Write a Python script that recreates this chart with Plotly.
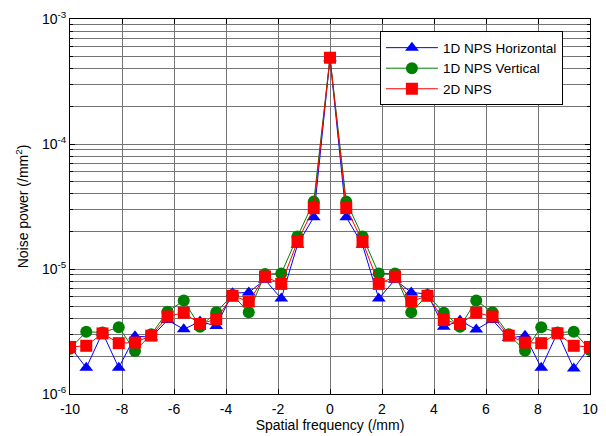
import numpy as np
import plotly.graph_objects as go

# Spatial frequency (/mm): 33 samples from -10 to 10
freq = [-10, -9.375, -8.75, -8.125, -7.5, -6.875, -6.25, -5.625, -5, -4.375,
        -3.75, -3.125, -2.5, -1.875, -1.25, -0.625, 0, 0.625, 1.25, 1.875,
        2.5, 3.125, 3.75, 4.375, 5, 5.625, 6.25, 6.875, 7.5, 8.125, 8.75,
        9.375, 10]

nps_horizontal = [2.4e-6, 1.62e-6, 3.1e-6, 1.62e-6, 2.9e-6, 2.85e-6, 3.9e-6, 3.3e-6,
                  3.8e-6, 3.5e-6, 6.4e-6, 6.5e-6, 8.2e-6, 5.8e-6, 1.56e-5, 2.6e-5,
                  4.85e-4,
                  2.6e-5, 1.56e-5, 5.8e-6, 8.2e-6, 6.5e-6, 6.3e-6, 3.45e-6, 3.87e-6,
                  3.28e-6, 3.91e-6, 2.8e-6, 2.93e-6, 1.62e-6, 3.1e-6, 1.6e-6, 2.4e-6]

nps_vertical = [2.3e-6, 3.15e-6, 3.1e-6, 3.42e-6, 2.21e-6, 3.0e-6, 4.55e-6, 5.6e-6,
                3.45e-6, 4.5e-6, 6.2e-6, 4.5e-6, 9.1e-6, 9.2e-6, 1.82e-5, 3.46e-5,
                4.9e-4,
                3.46e-5, 1.82e-5, 9.2e-6, 9.2e-6, 4.5e-6, 6.2e-6, 4.47e-6, 3.45e-6,
                5.6e-6, 4.5e-6, 3.0e-6, 2.22e-6, 3.42e-6, 3.1e-6, 3.15e-6, 2.25e-6]

nps_2d = [2.38e-6, 2.43e-6, 3.05e-6, 2.55e-6, 2.58e-6, 2.93e-6, 4.17e-6, 4.47e-6,
          3.63e-6, 3.97e-6, 6.1e-6, 5.5e-6, 8.7e-6, 7.6e-6, 1.66e-5, 3.07e-5,
          4.9e-4,
          3.07e-5, 1.66e-5, 7.6e-6, 8.7e-6, 5.5e-6, 6.1e-6, 3.91e-6, 3.63e-6,
          4.47e-6, 4.17e-6, 2.93e-6, 2.58e-6, 2.55e-6, 3.06e-6, 2.43e-6, 2.38e-6]

x_ticks = [-10, -8, -6, -4, -2, 0, 2, 4, 6, 8, 10]
y_tickvals = [1e-6, 1e-5, 1e-4, 1e-3]
y_ticktext = ["10<sup>-6</sup>", "10<sup>-5</sup>", "10<sup>-4</sup>", "10<sup>-3</sup>"]

FONT = "Liberation Sans, Arial, sans-serif"
GRID = "#747474"

fig = go.Figure()
fig.add_trace(go.Scatter(
    x=freq, y=nps_horizontal, mode="lines+markers", name="1D NPS Horizontal",
    line=dict(color="#0000ff", width=1),
    marker=dict(symbol="triangle-up", size=12, color="#0000ff")))
fig.add_trace(go.Scatter(
    x=freq, y=nps_vertical, mode="lines+markers", name="1D NPS Vertical",
    line=dict(color="#008000", width=1),
    marker=dict(symbol="circle", size=12, color="#008000")))
fig.add_trace(go.Scatter(
    x=freq, y=nps_2d, mode="lines+markers", name="2D NPS",
    line=dict(color="#ff0000", width=1),
    marker=dict(symbol="square", size=12, color="#ff0000")))

fig.update_layout(
    width=606, height=436,
    margin=dict(l=70, r=16, t=19, b=42, autoexpand=False),
    paper_bgcolor="white", plot_bgcolor="white",
    font=dict(family=FONT, size=14, color="black"),
    showlegend=True,
    legend=dict(x=0.596, y=0.967, xanchor="left", yanchor="top",
                bgcolor="white", bordercolor="black", borderwidth=1,
                font=dict(family=FONT, size=13.5, color="black"),
                itemwidth=52, tracegroupgap=0,
                entrywidth=130, entrywidthmode="pixels"),
)

fig.update_xaxes(
    range=[-10, 10], tickvals=x_ticks, ticktext=[str(v) for v in x_ticks],
    showgrid=True, gridcolor=GRID, gridwidth=1, zeroline=False,
    showline=True, linecolor="black", linewidth=1, mirror="ticks",
    ticks="inside", ticklen=5, tickcolor="black", ticklabelstandoff=2,
    tickfont=dict(family=FONT, size=14), automargin=False,
    title=dict(text="Spatial frequency (/mm)", standoff=2,
               font=dict(family=FONT, size=14)),
)
fig.update_yaxes(
    type="log", range=[-6, -3], tickvals=y_tickvals, ticktext=y_ticktext,
    showgrid=True, gridcolor=GRID, gridwidth=1, zeroline=False,
    showline=True, linecolor="black", linewidth=1, mirror="ticks",
    ticks="inside", ticklen=5, tickcolor="black",
    tickfont=dict(family=FONT, size=14), automargin=False,
    minor=dict(showgrid=True, gridcolor=GRID, gridwidth=1, ticks="inside",
               ticklen=3, tickcolor="black", dtick="D1"),
    title=dict(text="Noise power (/mm<sup>2</sup>)", standoff=10,
               font=dict(family=FONT, size=14)),
)

fig.write_html("out.html")
